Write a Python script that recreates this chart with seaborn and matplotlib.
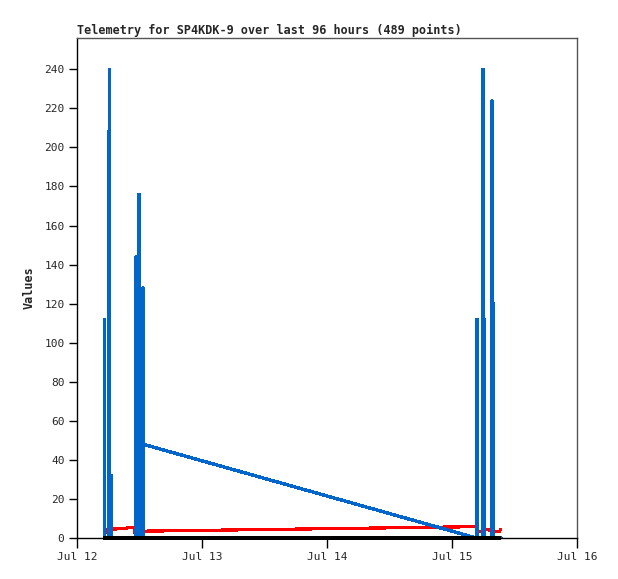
import matplotlib
matplotlib.use("Agg")
import matplotlib.pyplot as plt
import matplotlib.dates as mdates
import pandas as pd
import seaborn as sns

title = "Telemetry for SP4KDK-9 over last 96 hours (489 points)"
ylabel = "Values"

blue_times = ["2023-07-12 05:14", "2023-07-12 05:14", "2023-07-12 05:14",
              "2023-07-12 06:01", "2023-07-12 06:01", "2023-07-12 06:01",
              "2023-07-12 06:18", "2023-07-12 06:18", "2023-07-12 06:18",
              "2023-07-12 06:35", "2023-07-12 06:35", "2023-07-12 06:35",
              "2023-07-12 11:20", "2023-07-12 11:20", "2023-07-12 11:20",
              "2023-07-12 11:37", "2023-07-12 11:37", "2023-07-12 11:37",
              "2023-07-12 11:54", "2023-07-12 11:54", "2023-07-12 11:54",
              "2023-07-12 12:40", "2023-07-12 12:40", "2023-07-12 12:42",
              "2023-07-15 04:40",
              "2023-07-15 04:48", "2023-07-15 04:48", "2023-07-15 04:48",
              "2023-07-15 05:57", "2023-07-15 05:57", "2023-07-15 05:57",
              "2023-07-15 06:14", "2023-07-15 06:14", "2023-07-15 06:14",
              "2023-07-15 07:41", "2023-07-15 07:41", "2023-07-15 07:41",
              "2023-07-15 07:58", "2023-07-15 07:58", "2023-07-15 07:58",
              "2023-07-15 09:24"]
blue_values = [0, 112, 0,
               0, 208, 0,
               0, 240, 0,
               0, 32, 0,
               0, 144, 0,
               0, 56, 0,
               0, 176, 0,
               0, 128, 48,
               0,
               0, 112, 0,
               0, 240, 0,
               0, 112, 0,
               0, 224, 0,
               0, 120, 0,
               0]

red_times = ["2023-07-12 05:17", "2023-07-12 05:46", "2023-07-12 05:57",
             "2023-07-12 07:29", "2023-07-12 07:41", "2023-07-12 09:36",
             "2023-07-12 09:48", "2023-07-12 10:57", "2023-07-12 11:08",
             "2023-07-12 12:35", "2023-07-12 12:46", "2023-07-15 04:36",
             "2023-07-15 04:53", "2023-07-15 05:46", "2023-07-15 05:57",
             "2023-07-15 07:06", "2023-07-15 07:35", "2023-07-15 08:04",
             "2023-07-15 09:07", "2023-07-15 09:19"]
red_values = [2.8, 2.8, 4.5,
              4.6, 5.0, 5.0,
              5.5, 5.5, 2.6,
              2.6, 3.5, 5.8,
              3.2, 3.2, 4.6,
              4.2, 3.4, 3.2,
              3.2, 4.5]

black_times = ["2023-07-12 04:59", "2023-07-15 09:24"]
black_values = [0, 0]

xticks = ["2023-07-12", "2023-07-13", "2023-07-14", "2023-07-15", "2023-07-16"]
yticks = list(range(0, 241, 20))

sns.set_style("white")
mono = ["DejaVu Sans Mono"]

blue_df = pd.DataFrame({"time": pd.to_datetime(blue_times), "value": blue_values})
red_df = pd.DataFrame({"time": pd.to_datetime(red_times), "value": red_values})
black_df = pd.DataFrame({"time": pd.to_datetime(black_times), "value": black_values})

fig = plt.figure(figsize=(6.18, 5.79), dpi=100)
ax = fig.add_axes([77 / 618, 1 - 538 / 579, 500 / 618, 500 / 579])

sns.lineplot(data=red_df, x="time", y="value", ax=ax, color="#FF0000",
             linewidth=1.6, sort=False, estimator=None, antialiased=False)
sns.lineplot(data=blue_df, x="time", y="value", ax=ax, color="#0066CC",
             linewidth=1.7, sort=False, estimator=None, antialiased=False)
sns.lineplot(data=black_df, x="time", y="value", ax=ax, color="black",
             linewidth=1.6, sort=False, estimator=None, antialiased=False,
             solid_capstyle="butt", clip_on=False)

ax.set_xlim(pd.Timestamp(xticks[0]), pd.Timestamp(xticks[-1]))
ax.set_ylim(0, 256)
ax.set_xticks(pd.to_datetime(xticks))
ax.xaxis.set_major_formatter(mdates.DateFormatter("%b %d"))
ax.set_yticks(yticks)

for lbl in ax.get_xticklabels() + ax.get_yticklabels():
    lbl.set_family(mono)
    lbl.set_fontsize(8)

ax.tick_params(axis="x", direction="out", length=7, width=1, color="black",
               pad=3, bottom=True)
ax.tick_params(axis="y", direction="out", length=6, width=1, color="black",
               pad=3, left=True)

for side in ["left", "bottom"]:
    ax.spines[side].set_color("black")
    ax.spines[side].set_linewidth(1.0)
for side in ["top", "right"]:
    ax.spines[side].set_color("#555555")
    ax.spines[side].set_linewidth(1.0)

ax.set_xlabel("")
ax.set_ylabel(ylabel, family=mono, fontsize=8.5, fontweight="bold", labelpad=6)
ax.set_title(title, loc="left", family=mono, fontsize=8.5, fontweight="bold", pad=3)

fig.savefig("out.png", dpi=100)
